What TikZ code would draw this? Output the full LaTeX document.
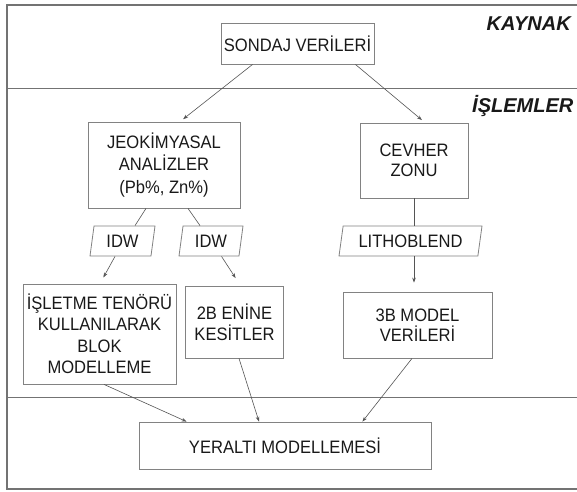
\documentclass[tikz,border=0pt]{standalone}
\usepackage{fontspec}
\setmainfont[FakeStretch=0.92]{Liberation Sans}
\newfontfamily\headfont{Liberation Sans}
\usetikzlibrary{shapes.geometric,arrows.meta,calc}
\definecolor{framegray}{RGB}{115,115,115}
\definecolor{boxgray}{RGB}{130,130,130}
\definecolor{linegray}{RGB}{85,85,85}
\definecolor{txt}{RGB}{25,25,25}
\begin{document}
\begin{tikzpicture}[x=1pt,y=-1pt,
  every node/.style={text=txt},
  boxnode/.style={draw=boxgray, line width=0.8pt, inner sep=0pt, align=center,
    font=\fontsize{18}{21.5}\selectfont},
  para/.style={trapezium, trapezium left angle=72, trapezium right angle=108,
    trapezium stretches body, draw=boxgray, line width=0.8pt, inner sep=0pt,
    font=\fontsize{18}{20}\selectfont},
  conn/.style={draw=linegray, line width=0.6pt},
  arr/.style={conn, -{Stealth[length=5pt,width=3.6pt]}},
  head/.style={font=\headfont\fontsize{20}{24}\selectfont\bfseries\itshape}
]
\useasboundingbox (0,0) rectangle (577,491);
\fill[white] (0,0) rectangle (577,491);
% frame
\draw[framegray, line width=1.3pt] (578,5) -- (7,5) -- (7,489) -- (578,489);
\draw[framegray, line width=1pt] (7,88) -- (578,88);
\draw[framegray, line width=1pt] (7,397) -- (578,397);
% headings
\node[head, anchor=base east, inner sep=0pt] (kaynak) at (571,30) {KAYNAK};
\node[head, anchor=base west, inner sep=0pt] (islemler) at (472,112) {İŞLEMLER};
% boxes
\node[boxnode, minimum width=153, minimum height=41] (sondaj) at (297.5,43.5) {SONDAJ VERİLERİ};
\node[boxnode, minimum width=152, minimum height=86, font=\fontsize{18}{22.5}\selectfont] (jeok) at (164,165) {JEOKİMYASAL\\ANALİZLER\\(Pb\%, Zn\%)};
\node[boxnode, minimum width=108, minimum height=75, font=\fontsize{18}{19.5}\selectfont] (cevher) at (414,160.5) {CEVHER\\ZONU};
\node[para, minimum width=65, minimum height=30] (idw1) at (122.5,241) {IDW};
\node[para, minimum width=64, minimum height=30] (idw2) at (211,241) {IDW};
\node[para, minimum width=143, minimum height=30] (litho) at (410.5,241) {LITHOBLEND};
\node[boxnode, minimum width=153, minimum height=100] (isletme) at (99.5,334) {İŞLETME TENÖRÜ\\KULLANILARAK\\BLOK\\MODELLEME};
\node[boxnode, minimum width=98, minimum height=72, font=\fontsize{18}{21}\selectfont] (ikib) at (234.5,322) {2B ENİNE\\KESİTLER};
\node[boxnode, minimum width=149, minimum height=66, font=\fontsize{18}{20.5}\selectfont] (ucb) at (417.5,325) {3B MODEL\\VERİLERİ};
\node[boxnode, minimum width=292, minimum height=47] (yeralti) at (285,445.5) {YERALTI MODELLEMESİ};
% connectors
\draw[arr, shorten >=4pt] ([xshift=32]sondaj.south west) -- ($(jeok.north)+(16,0)$);
\draw[arr, shorten >=4pt] ([xshift=-19]sondaj.south east) -- ($(cevher.north)+(11,0)$);
\draw[conn] ([xshift=-18]jeok.south) -- ([xshift=12.5]idw1.north);
\draw[conn] ([xshift=24]jeok.south) -- ([xshift=-11]idw2.north);
\draw[conn] (cevher.south) -- (litho.north -| cevher.south);
\draw[arr, shorten >=7pt] ([xshift=-7.5]idw1.south) -- ([xshift=0.5]isletme.north);
\draw[arr, shorten >=9pt] ([xshift=10.5]idw2.south) -- ([xshift=6]ikib.north);
\draw[arr, shorten >=9pt] (litho.south -| cevher.south) -- (ucb.north -| cevher.south);
\draw[arr] ([xshift=4.5]isletme.south) -- ([xshift=48]yeralti.north west);
\draw[arr] ([xshift=4.5]ikib.south) -- ([xshift=-26]yeralti.north);
\draw[arr] ([xshift=-5.5]ucb.south) -- ([xshift=-69]yeralti.north east);
\end{tikzpicture}
\end{document}
